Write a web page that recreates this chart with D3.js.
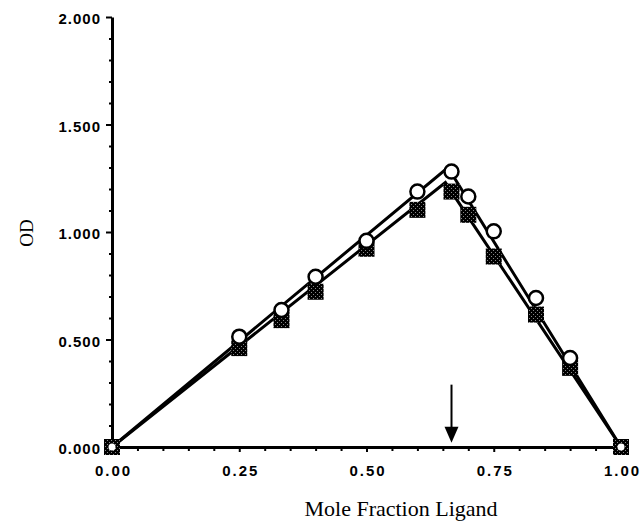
<!DOCTYPE html>
<html>
<head>
<meta charset="utf-8">
<script src="https://cdn.jsdelivr.net/npm/d3@7"></script>
<style>
  body { margin: 0; background: #fff; }
</style>
</head>
<body>
<div id="chart"></div>
<script>
// values (mole fraction of ligand vs OD)
var moleFraction = [0, 0.25, 0.333, 0.4, 0.5, 0.6, 0.667, 0.7, 0.75, 0.833, 0.9, 1.0];
var odCircles = [0, 0.513, 0.637, 0.792, 0.959, 1.188, 1.281, 1.165, 1.003, 0.693, 0.414, 0];
var odSquares = [0, 0.46, 0.59, 0.722, 0.922, 1.103, 1.188, 1.08, 0.886, 0.616, 0.368, 0];

// straight line fits (rising + falling branch) for each series
var fitXCircles = [0, 0.66, 1];
var fitYCircles = [0, 1.3, 0];
var fitXSquares = [0, 0.655, 1];
var fitYSquares = [0, 1.23, 0];

// tick labels
var xTicks = [0, 0.25, 0.5, 0.75, 1];
var yTicks = [0, 0.5, 1, 1.5, 2];
var xMinor = [0.05, 0.1, 0.15, 0.2, 0.3, 0.35, 0.4, 0.45, 0.55, 0.6, 0.65, 0.7, 0.8, 0.85, 0.9, 0.95];
var yMinor = [0.1, 0.2, 0.3, 0.4, 0.6, 0.7, 0.8, 0.9, 1.1, 1.2, 1.3, 1.4, 1.6, 1.7, 1.8, 1.9];

// arrow marking the stoichiometry point
var arrowX = [0.667];
var arrowFrom = 0.29;
var arrowTo = 0.02;

var margin = { left: 112, right: 20, top: 17, bottom: 78 };
const w = 641 - margin.left - margin.right;
const h = 525 - margin.top - margin.bottom;

var svg = d3
  .select("#chart")
  .append("svg")
  .attr("width", 641)
  .attr("height", 525);

// dithered dark fill for the square markers
var defs = svg.append("defs");
var pat = defs
  .append("pattern")
  .attr("id", "dither")
  .attr("width", 4)
  .attr("height", 4)
  .attr("patternUnits", "userSpaceOnUse");
pat.append("rect").attr("width", 4).attr("height", 4).attr("fill", "#000");
pat.append("rect").attr("x", 1).attr("y", 1).attr("width", 1).attr("height", 1).attr("fill", "#888");
pat.append("rect").attr("x", 3).attr("y", 3).attr("width", 1).attr("height", 1).attr("fill", "#888");

var g = svg
  .append("g")
  .attr("transform", "translate(" + margin.left + "," + margin.top + ")");

var x = d3.scaleLinear().domain([0, 1]).range([0, w]);
var y = d3.scaleLinear().domain([0, 2]).range([h, 0]);

// minor ticks first, so the major axis sits on top
g.append("g")
  .attr("transform", "translate(0," + h + ")")
  .call(d3.axisBottom(x).tickValues(xMinor).tickFormat("").tickSize(4).tickSizeOuter(0))
  .call((a) => a.select(".domain").remove())
  .selectAll("line")
  .attr("stroke-width", 2);

g.append("g")
  .call(d3.axisLeft(y).tickValues(yMinor).tickFormat("").tickSize(3).tickSizeOuter(0))
  .call((a) => a.select(".domain").remove())
  .selectAll("line")
  .attr("stroke-width", 2);

// x axis
var xAxis = g
  .append("g")
  .attr("transform", "translate(0," + h + ")")
  .call(
    d3.axisBottom(x)
      .tickValues(xTicks)
      .tickFormat(d3.format(".2f"))
      .tickSize(5)
      .tickSizeOuter(0)
      .tickPadding(13)
  );
xAxis.select(".domain").attr("stroke-width", 3);
xAxis.selectAll("line").attr("stroke-width", 2);
xAxis
  .selectAll("text")
  .style("font-family", "'Liberation Sans', Arial, sans-serif")
  .style("font-weight", "bold")
  .style("font-size", "15px")
  .style("letter-spacing", "2px")
  .attr("dx", "1px")
  .attr("fill", "#000");

// y axis
var yAxis = g
  .append("g")
  .call(
    d3.axisLeft(y)
      .tickValues(yTicks)
      .tickFormat(d3.format(".3f"))
      .tickSize(6)
      .tickSizeOuter(0)
      .tickPadding(5)
  );
yAxis.select(".domain").attr("stroke-width", 3);
yAxis.selectAll("line").attr("stroke-width", 2);
yAxis
  .selectAll("text")
  .style("font-family", "'Liberation Sans', Arial, sans-serif")
  .style("font-weight", "bold")
  .style("font-size", "15px")
  .style("letter-spacing", "1px")
  .attr("dy", "0.45em")
  .attr("fill", "#000");

// fitted lines
var line = d3
  .line()
  .x((d) => x(d[0]))
  .y((d) => y(d[1]));

g.append("path")
  .datum(d3.zip(fitXSquares, fitYSquares))
  .attr("d", line)
  .attr("fill", "none")
  .attr("stroke", "#000")
  .attr("stroke-width", 3)
  .attr("stroke-linejoin", "miter");

g.append("path")
  .datum(d3.zip(fitXCircles, fitYCircles))
  .attr("d", line)
  .attr("fill", "none")
  .attr("stroke", "#000")
  .attr("stroke-width", 3)
  .attr("stroke-linejoin", "miter");

// filled square markers
var sq = 16;
g.selectAll("rect.sq")
  .data(d3.zip(moleFraction, odSquares))
  .enter()
  .append("rect")
  .attr("class", "sq")
  .attr("x", (d) => x(d[0]) - sq / 2)
  .attr("y", (d) => y(d[1]) - sq / 2)
  .attr("width", sq)
  .attr("height", sq)
  .attr("fill", "url(#dither)");

// open circle markers (end points are hidden in the squares, only a white dot shows)
g.selectAll("circle")
  .data(d3.zip(moleFraction, odCircles))
  .enter()
  .append("circle")
  .attr("cx", (d) => x(d[0]))
  .attr("cy", (d) => y(d[1]))
  .attr("r", (d) => (d[1] == 0 ? 3.5 : 7))
  .attr("fill", "#fff")
  .attr("stroke", (d) => (d[1] == 0 ? "none" : "#000"))
  .attr("stroke-width", 2.5);

// arrow
g.selectAll("line.arrow")
  .data(arrowX)
  .enter()
  .append("line")
  .attr("class", "arrow")
  .attr("x1", (d) => x(d))
  .attr("x2", (d) => x(d))
  .attr("y1", y(arrowFrom))
  .attr("y2", y(arrowTo) - 10)
  .attr("stroke", "#000")
  .attr("stroke-width", 2);

g.selectAll("path.head")
  .data(arrowX)
  .enter()
  .append("path")
  .attr("class", "head")
  .attr("d", (d) => {
    var tx = x(d), ty = y(arrowTo);
    return "M" + (tx - 7) + "," + (ty - 16) + "L" + (tx + 7) + "," + (ty - 16) + "L" + tx + "," + ty + "Z";
  })
  .attr("fill", "#000");

// axis titles
svg.append("text")
  .text("Mole Fraction Ligand")
  .attr("x", 401)
  .attr("y", 516)
  .attr("text-anchor", "middle")
  .style("font-family", "'Liberation Serif', 'Times New Roman', serif")
  .style("font-size", "22px");

svg.append("text")
  .text("OD")
  .attr("transform", "translate(33,233) rotate(-90)")
  .attr("text-anchor", "middle")
  .style("font-family", "'Liberation Serif', 'Times New Roman', serif")
  .style("font-size", "19px");
</script>
</body>
</html>
